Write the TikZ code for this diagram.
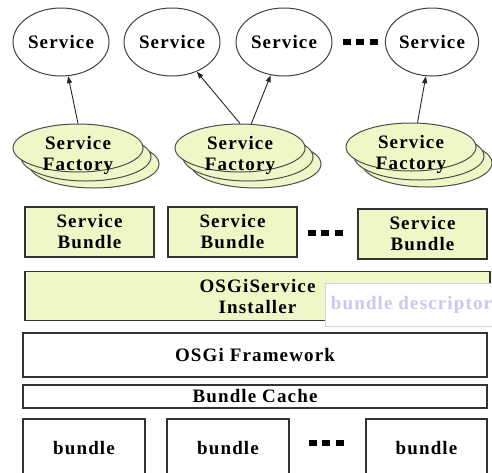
\documentclass[tikz,border=0pt]{standalone}
\usepackage{fontspec}
\setmainfont[LetterSpace=6]{Liberation Serif}
\usetikzlibrary{arrows.meta,shapes.geometric}
\definecolor{lightgreen}{RGB}{239,247,198}
\definecolor{lavtext}{RGB}{200,200,240}
\definecolor{lavline}{RGB}{208,208,244}
\tikzset{
  every node/.style={font=\fontsize{19}{21}\selectfont\bfseries},
  svc/.style={ellipse, draw=black!75, line width=1pt, fill=white, minimum width=96pt, minimum height=68pt, inner sep=0pt},
  svcsmall/.style={svc, minimum width=82pt},
  fact/.style={ellipse, draw=black!70, line width=1pt, fill=lightgreen, minimum width=130pt, minimum height=48pt, inner sep=0pt},
  ftext/.style={align=center, inner sep=0pt, yshift=-7pt},
  sbox/.style={rectangle, draw=black!80, line width=1.3pt, fill=lightgreen, minimum width=129pt, minimum height=50pt, inner sep=0pt, align=center},
  wbox/.style={rectangle, draw=black!80, line width=1.3pt, fill=white, inner sep=0pt, align=center},
  desc/.style={rectangle, draw=lavline, line width=1pt, fill=white, text=lavtext, minimum width=172pt, minimum height=43pt, inner sep=0pt},
  link/.style={-{Triangle[length=7pt,width=5pt]}, line width=0.9pt, black!85},
  tdots/.pic={\fill (-17.5,-3) rectangle (-9.5,3); \fill (-4,-3) rectangle (4,3); \fill (9.5,-3) rectangle (17.5,3);}
}
\begin{document}
\begin{tikzpicture}[x=1pt,y=-1pt]
\useasboundingbox (0,0) rectangle (492,472);
\clip (0,0) rectangle (492,472);
\fill[white] (0,0) rectangle (492,472);

% top services
\node[svc] (s1) at (61,42) {Service};
\node[svc] (s2) at (172,42) {Service};
\node[svc] (s3) at (284,42) {Service};
\node[svcsmall] (s4) at (432,42) {Service};
\pic at (360,42) {tdots};

% factory stacks
\node[fact] (f1c) at (94,164) {};
\node[fact] (f1b) at (86,157) {};
\node[fact] (f1) at (78,148) {};
\node[ftext] (f1t) at (f1) {Service\\Factory};

\node[fact] (f2c) at (256,164) {};
\node[fact] (f2b) at (248,157) {};
\node[fact] (f2) at (240,148) {};
\node[ftext] (f2t) at (f2) {Service\\Factory};

\node[fact] (f3c) at (427,163) {};
\node[fact] (f3b) at (419,156) {};
\node[fact] (f3) at (411,147) {};
\node[ftext] (f3t) at (f3) {Service\\Factory};

% arrows
\draw[link] (f1.north) -- (s1);
\draw[link] (f2.north) -- (s2);
\draw[link] (f2.65) -- (s3);
\draw[link] (f3.75) -- (s4);

% service bundles
\node[sbox] (b1) at (89.5,232) {Service\\Bundle};
\node[sbox] (b2) at (232.5,232) {Service\\Bundle};
\node[sbox] (b3) at (422.5,234) {Service\\Bundle};
\pic at (325,233) {tdots};

% installer
\node[sbox, minimum width=465pt, minimum height=49pt] (inst) at (257.5,296) {OSGiService\\Installer};
\node[desc, anchor=west] (bd) at (325,305) {bundle descriptor};

% framework and cache
\node[wbox, minimum width=464pt, minimum height=44pt] (fw) at (255,355) {OSGi Framework};
\node[wbox, minimum width=464pt, minimum height=23pt] (bc) at (255,396.5) {Bundle Cache};

% bundles
\node[wbox, minimum width=122pt, minimum height=58pt] (u1) at (84,448) {bundle};
\node[wbox, minimum width=122pt, minimum height=58pt] (u2) at (228,448) {bundle};
\node[wbox, minimum width=121pt, minimum height=58pt] (u3) at (426.5,448) {bundle};
\pic at (326,443) {tdots};
\end{tikzpicture}
\end{document}
